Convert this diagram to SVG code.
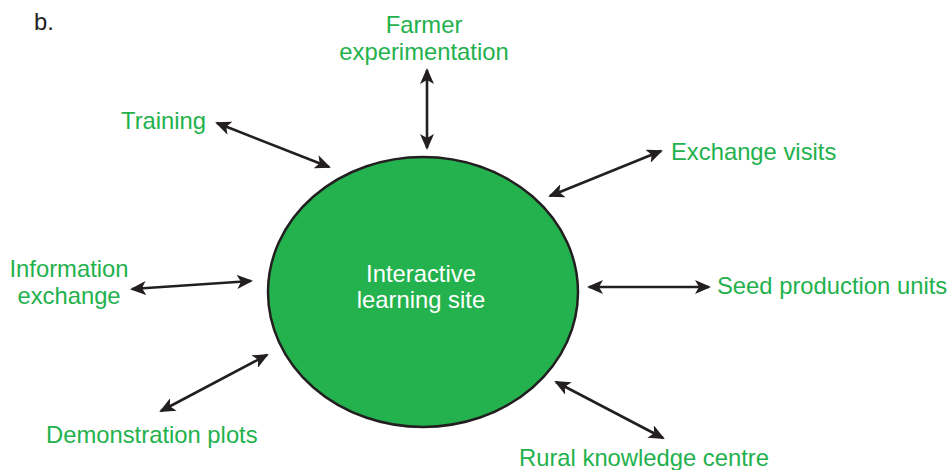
<svg xmlns="http://www.w3.org/2000/svg" width="951" height="470" viewBox="0 0 951 470">
<style>
text{font-family:"Liberation Sans",Arial,sans-serif;font-size:23.8px}
.g{fill:#22b14c}
.w{fill:#ffffff}
.k{fill:#231f20}
.c{stroke:#231f20;stroke-width:2.6;fill:none;marker-start:url(#ah);marker-end:url(#ah)}
</style>
<defs>
<marker id="ah" viewBox="0 0 16 14" refX="14" refY="7" markerWidth="16" markerHeight="14" markerUnits="userSpaceOnUse" orient="auto-start-reverse">
<path d="M0,0 L16,7 L0,14 L4,7 Z" fill="#231f20"/>
</marker>
</defs>
<rect width="951" height="470" fill="#fff"/>
<text x="34" y="30" class="k">b.</text>
<g id="center">
<ellipse cx="423" cy="292" rx="155" ry="135" fill="#24b24e" stroke="#231f20" stroke-width="2.5"/>
<text x="421" y="282" class="w" text-anchor="middle">Interactive</text>
<text x="421" y="308" class="w" text-anchor="middle">learning site</text>
</g>
<g id="farmer"><text x="424" y="33" class="g" text-anchor="middle">Farmer</text><text x="424" y="60" class="g" text-anchor="middle">experimentation</text></g>
<g id="training"><text x="121" y="129" class="g">Training</text></g>
<g id="exchange-visits"><text x="671" y="160" class="g">Exchange visits</text></g>
<g id="info"><text x="69" y="277" class="g" text-anchor="middle">Information</text><text x="69" y="304" class="g" text-anchor="middle">exchange</text></g>
<g id="seed"><text x="717" y="294" class="g">Seed production units</text></g>
<g id="demo"><text x="46" y="443" class="g">Demonstration plots</text></g>
<g id="rural"><text x="519" y="466" class="g">Rural knowledge centre</text></g>
<g id="connectors">
<line class="c" x1="427" y1="70" x2="427" y2="148"/>
<line class="c" x1="217" y1="123" x2="329" y2="167"/>
<line class="c" x1="661" y1="151" x2="550" y2="196"/>
<line class="c" x1="132" y1="289" x2="251" y2="281"/>
<line class="c" x1="589" y1="287" x2="709" y2="287"/>
<line class="c" x1="161" y1="411" x2="267" y2="355"/>
<line class="c" x1="556" y1="382" x2="663" y2="438"/>
</g>
</svg>
